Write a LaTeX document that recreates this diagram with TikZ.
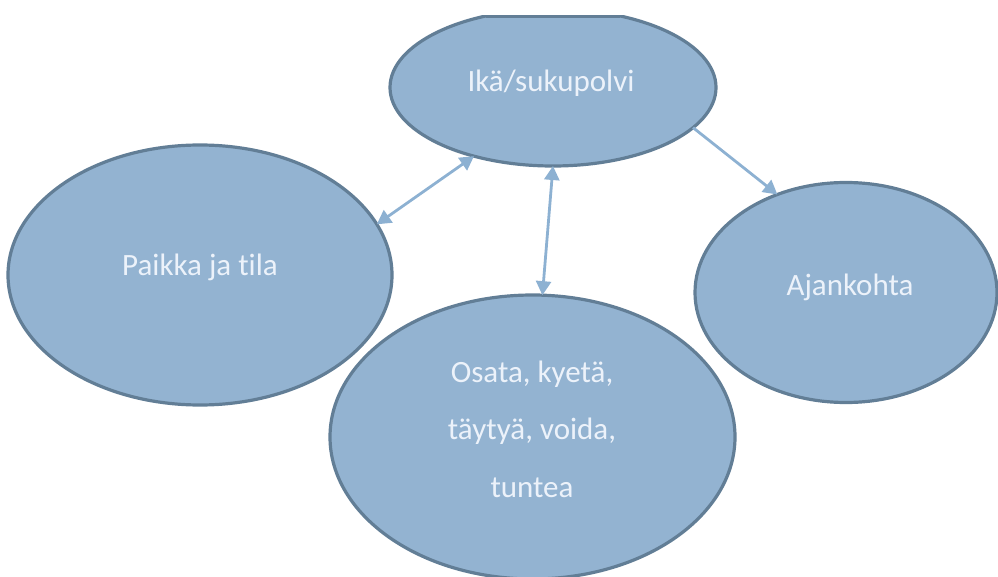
\documentclass[tikz,border=0pt]{standalone}
\usepackage{fontspec}
\setmainfont{Carlito}[Ligatures=NoCommon]
\usetikzlibrary{shapes.geometric,arrows.meta}
\definecolor{fillblue}{RGB}{147,179,209}
\definecolor{edgeblue}{RGB}{98,126,150}
\definecolor{arrowblue}{RGB}{141,177,210}
\definecolor{txtcol}{RGB}{236,242,250}
\begin{document}
\begin{tikzpicture}[x=1pt,y=-1pt,
  bubble/.style={ellipse, draw=edgeblue, fill=fillblue, line width=3.2pt, inner sep=0pt, outer sep=0pt},
  lbl/.style={text=txtcol, font=\fontsize{31}{57.5}\selectfont, align=center, inner sep=0pt, anchor=base},
  link/.style={draw=arrowblue, line width=2.8pt, >={Triangle[length=14pt,width=15pt]}}]
\useasboundingbox (0,0) rectangle (998,577);
\clip (0,0) rectangle (998,577);
\begin{scope}
  \clip (0,16) rectangle (998,577);
  \node[bubble, minimum width=326pt, minimum height=157pt] (top) at (553,87.5) {};
\end{scope}
\draw[edgeblue, line width=3pt] (486,16.5) -- (620,16.5);
\node[bubble, minimum width=384pt, minimum height=260pt] (left) at (200,275) {};
\node[bubble, minimum width=302pt, minimum height=220pt] (right) at (846,292.5) {};
\node[bubble, minimum width=405pt, minimum height=284pt] (bottom) at (532.5,437) {};
\node[lbl] (topT) at (551,92) {Ikä/sukupolvi};
\node[lbl] (leftT) at (200,276) {Paikka ja tila};
\node[lbl] (rightT) at (850,295) {Ajankohta};
\node[lbl] (bottomT) at (532,497) {Osata, kyetä,\\täytyä, voida,\\tuntea};
\draw[link, <->] (top.221) -- (left.16);
\draw[link, <->] (top.270) -- (bottom.86);
\draw[link, ->] (top.-16.5) -- (right.125);
\end{tikzpicture}
\end{document}
